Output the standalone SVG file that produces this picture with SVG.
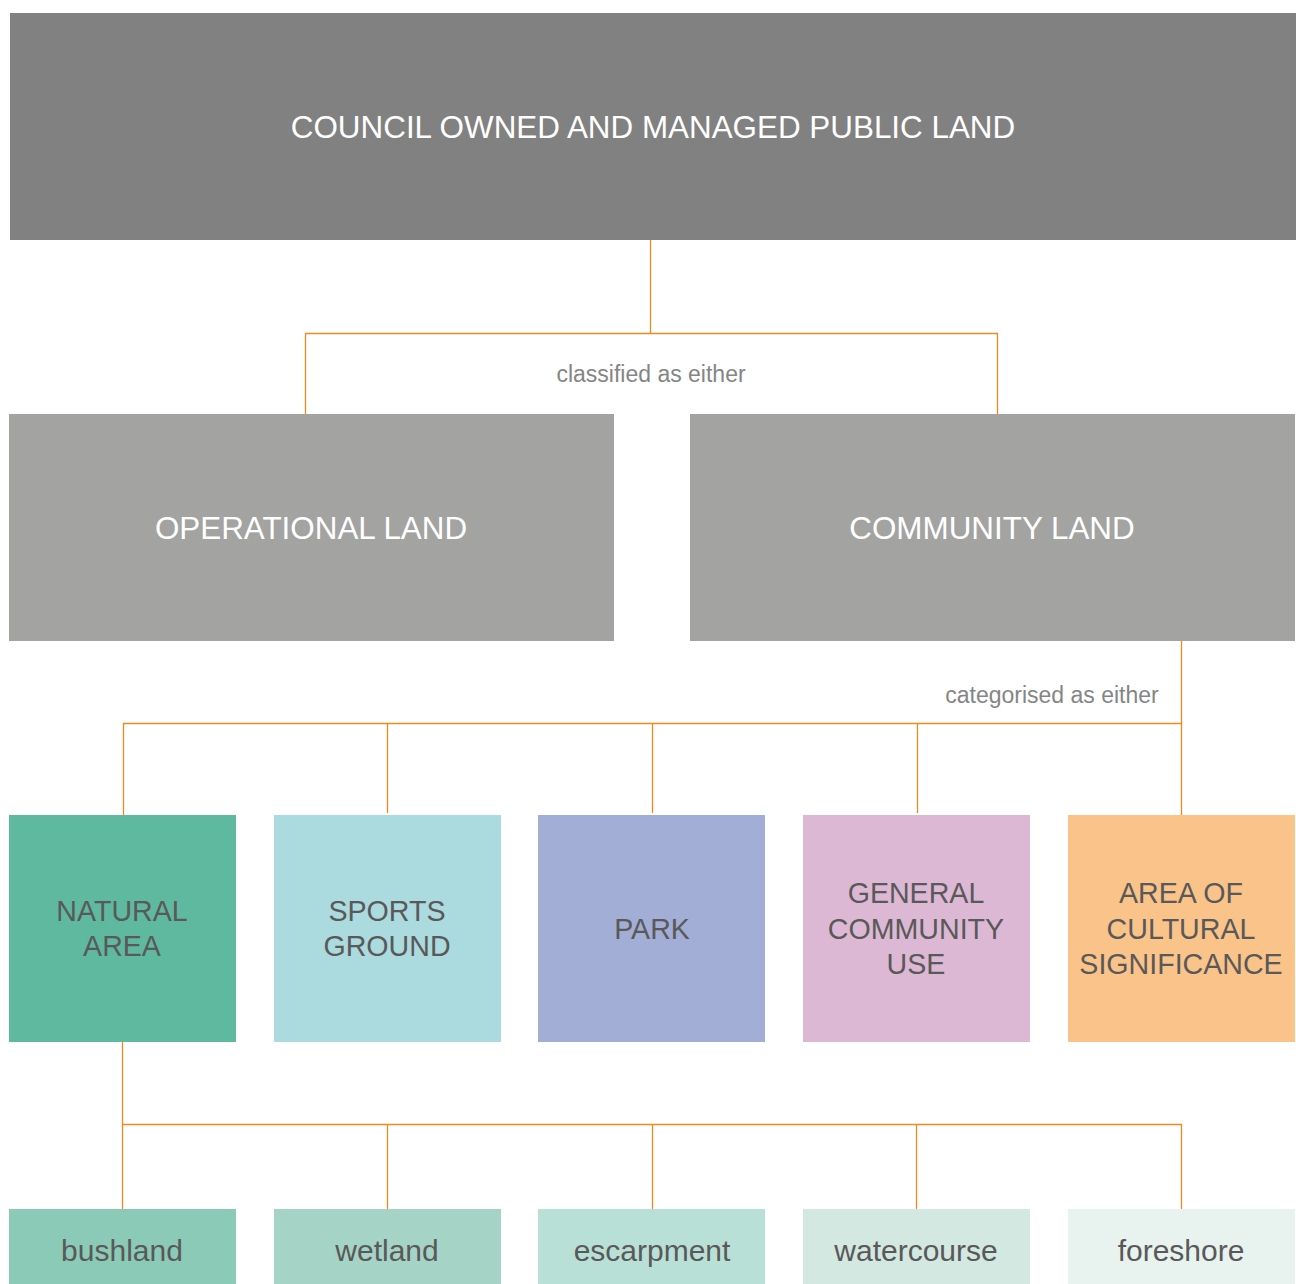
<svg xmlns="http://www.w3.org/2000/svg" width="1296" height="1284" viewBox="0 0 1296 1284">
<style>
text{font-family:"Liberation Sans",Arial,Helvetica,sans-serif;text-anchor:middle}
.w{fill:#ffffff;font-size:31.4px}
.d{fill:#595959;font-size:28.6px}
.b{fill:#595959;font-size:30px}
.lbl{fill:#858585;font-size:23px}
.c{stroke:#f0891e;stroke-width:1.3;fill:none}
</style>
<rect width="1296" height="1284" fill="#ffffff"/>
<g id="connectors" class="c">
<path d="M650.5 240V333.5M305.5 414V333.5H997.5V414"/>
<path d="M1181.5 641V815M123.5 815V723.5H1181.5M387.5 723.5V813M652.5 723.5V813M917.5 723.5V813"/>
<path d="M122.5 1042V1211M122.5 1124.5H1181.5V1211M387.5 1124.5V1211M652.5 1124.5V1211M916.5 1124.5V1211"/>
</g>
<g id="lbl-classified"><text class="lbl" x="651" y="382">classified as either</text></g>
<g id="lbl-categorised"><text class="lbl" x="1052" y="703">categorised as either</text></g>
<g id="council"><rect x="10" y="13" width="1286" height="227" fill="#818181"/><text class="w" x="653" y="138">COUNCIL OWNED AND MANAGED PUBLIC LAND</text></g>
<g id="operational"><rect x="9" y="414" width="605" height="227" fill="#a3a3a2"/><text class="w" x="311" y="539">OPERATIONAL LAND</text></g>
<g id="community"><rect x="690" y="414" width="605" height="227" fill="#a3a3a2"/><text class="w" x="992" y="539">COMMUNITY LAND</text></g>
<g id="natural"><rect x="9" y="815" width="227" height="227" fill="#5fb99e"/><text class="d" x="122" y="921">NATURAL</text><text class="d" x="122" y="956">AREA</text></g>
<g id="sports"><rect x="274" y="815" width="227" height="227" fill="#abdadf"/><text class="d" x="387" y="921">SPORTS</text><text class="d" x="387" y="956">GROUND</text></g>
<g id="park"><rect x="538" y="815" width="227" height="227" fill="#a2aed6"/><text class="d" x="652" y="939">PARK</text></g>
<g id="general"><rect x="803" y="815" width="227" height="227" fill="#ddb8d4"/><text class="d" x="916" y="903">GENERAL</text><text class="d" x="916" y="939">COMMUNITY</text><text class="d" x="916" y="974">USE</text></g>
<g id="cultural"><rect x="1068" y="815" width="227" height="227" fill="#f9c38a"/><text class="d" x="1181" y="903">AREA OF</text><text class="d" x="1181" y="939">CULTURAL</text><text class="d" x="1181" y="974">SIGNIFICANCE</text></g>
<g id="bushland"><rect x="9" y="1209" width="227" height="75" fill="#8bcab7"/><text class="b" x="122" y="1261">bushland</text></g>
<g id="wetland"><rect x="274" y="1209" width="227" height="75" fill="#a5d3c5"/><text class="b" x="387" y="1261">wetland</text></g>
<g id="escarpment"><rect x="538" y="1209" width="227" height="75" fill="#b9e0d6"/><text class="b" x="652" y="1261">escarpment</text></g>
<g id="watercourse"><rect x="803" y="1209" width="227" height="75" fill="#d2e8e1"/><text class="b" x="916" y="1261">watercourse</text></g>
<g id="foreshore"><rect x="1068" y="1209" width="227" height="75" fill="#e8f2ef"/><text class="b" x="1181" y="1261">foreshore</text></g>
</svg>
